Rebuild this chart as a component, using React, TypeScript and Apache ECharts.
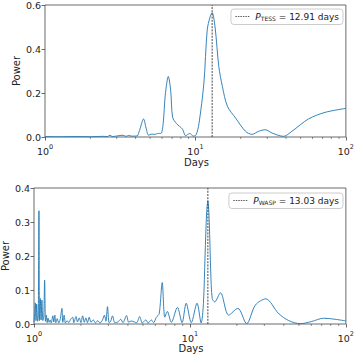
import React, { useEffect, useRef } from "react";
import * as echarts from "echarts";

const tessDays = [1.0, 1.3, 1.6, 2.0, 2.4, 2.6, 2.7, 2.8, 3.1, 3.3, 3.45, 3.6, 3.75, 3.9, 4.1, 4.25, 4.52, 4.7, 4.88, 5.1, 5.4, 5.6, 5.89, 6.1, 6.3, 6.6, 6.85, 7.05, 7.5, 8.2, 8.6, 9.16, 9.7, 10.1, 10.55, 11.38, 11.97, 12.5, 12.91, 13.5, 14.3, 15.1, 16.3, 18.5, 21.5, 23.8, 26.3, 29.2, 32.3, 38.5, 43.8, 56.4, 72.7, 100];
const tessPower = [0.002, 0.001, 0.002, 0.001, 0.003, 0.002, 0.008, 0.002, 0.006, 0.008, 0.003, 0.007, 0.004, 0.004, 0.005, 0.03, 0.082, 0.04, 0.008, 0.013, 0.012, 0.016, 0.016, 0.06, 0.19, 0.275, 0.21, 0.09, 0.06, 0.036, 0.006, 0.016, 0.004, 0.01, 0.06, 0.245, 0.486, 0.545, 0.565, 0.5, 0.32, 0.23, 0.14, 0.086, 0.026, 0.012, 0.026, 0.033, 0.018, 0.003, 0.026, 0.082, 0.112, 0.13];

const waspDays = [1.0, 1.01, 1.02, 1.03, 1.04, 1.055, 1.065, 1.076, 1.085, 1.098, 1.11, 1.124, 1.14, 1.155, 1.17, 1.185, 1.2, 1.215, 1.23, 1.25, 1.27, 1.29, 1.32, 1.34, 1.36, 1.38, 1.41, 1.44, 1.47, 1.51, 1.53, 1.56, 1.59, 1.63, 1.67, 1.72, 1.77, 1.8, 1.86, 1.9, 1.95, 2.0, 2.05, 2.1, 2.15, 2.2, 2.26, 2.32, 2.4, 2.48, 2.56, 2.65, 2.75, 2.83, 2.89, 2.96, 3.03, 3.1, 3.19, 3.3, 3.45, 3.6, 3.72, 3.92, 4.05, 4.2, 4.4, 4.55, 4.76, 4.95, 5.21, 5.4, 5.65, 5.85, 6.09, 6.35, 6.64, 6.9, 7.16, 7.6, 8.31, 8.9, 9.46, 10.2, 11.1, 11.8, 12.2, 12.5, 12.8, 13.03, 13.3, 13.6, 13.9, 14.4, 15.7, 17.7, 20.3, 23.1, 26.3, 30.6, 37.0, 43.0, 51.0, 60.0, 72.0, 85.0, 100];
const waspPower = [0.005, 0.03, 0.062, 0.01, 0.058, 0.008, 0.02, 0.333, 0.01, 0.075, 0.012, 0.07, 0.01, 0.02, 0.129, 0.008, 0.026, 0.004, 0.017, 0.005, 0.012, 0.003, 0.024, 0.006, 0.026, 0.004, 0.016, 0.003, 0.012, 0.046, 0.005, 0.026, 0.003, 0.01, 0.004, 0.014, 0.02, 0.004, 0.022, 0.006, 0.018, 0.004, 0.024, 0.005, 0.018, 0.004, 0.02, 0.005, 0.012, 0.003, 0.01, 0.003, 0.012, 0.026, 0.008, 0.051, 0.004, 0.008, 0.024, 0.004, 0.006, 0.014, 0.004, 0.025, 0.005, 0.009, 0.006, 0.004, 0.022, 0.003, 0.012, 0.003, 0.012, 0.004, 0.02, 0.03, 0.122, 0.02, 0.037, 0.005, 0.049, 0.004, 0.061, 0.004, 0.061, 0.003, 0.06, 0.2, 0.33, 0.362, 0.3, 0.15, 0.075, 0.065, 0.092, 0.026, 0.046, 0.001, 0.056, 0.074, 0.031, 0.01, 0.001, 0.007, 0.017, 0.014, 0.009];

const pTess = 12.91;
const pWasp = 13.03;
const minorTicks = [2, 3, 4, 5, 6, 7, 8, 9, 20, 30, 40, 50, 60, 70, 80, 90];
const xTitle = "Days";
const yTitle = "Power";

const FONT = "DejaVu Sans";
const AX = "#444";
const BLUE = "#1f77b4";

function zip(a: number[], b: number[]) {
  return a.map((v, i) => [v, b[i]]);
}

export default function App() {
  const ref = useRef<HTMLDivElement>(null);
  useEffect(() => {
    if (!ref.current) return;
    const chart = echarts.init(ref.current, undefined, { renderer: "svg" });
    const xAxisBase = (gridIndex: number) => ({
      type: "log",
      logBase: 10,
      gridIndex,
      min: 1,
      max: 100,
      axisLine: { show: false },
      axisTick: { show: true, length: 3.5, lineStyle: { color: AX, width: 0.8 } },
      splitLine: { show: false },
      axisLabel: {
        fontFamily: FONT,
        color: "#222",
        margin: 5,
        formatter: (v: number) => "{b|10}{s|" + Math.round(Math.log10(v)) + "}",
        rich: {
          b: { fontFamily: FONT, fontSize: 9.5, color: "#222", padding: [4, 0, 0, 0] },
          s: { fontFamily: FONT, fontSize: 6.5, color: "#222", padding: [0, 0, 4, 0] },
        },
      },
    });
    const yAxisBase = (gridIndex: number, max: number, interval: number) => ({
      type: "value",
      gridIndex,
      min: 0,
      max,
      interval,
      axisLine: { show: false },
      axisTick: { show: true, length: 3.5, lineStyle: { color: AX, width: 0.8 } },
      splitLine: { show: false },
      axisLabel: {
        fontFamily: FONT,
        fontSize: 9.5,
        color: "#222",
        margin: 4,
        formatter: (v: number) => v.toFixed(1),
      },
    });
    const minorSeries = (idx: number) => ({
      type: "custom",
      xAxisIndex: idx,
      yAxisIndex: idx,
      silent: true,
      clip: false,
      data: minorTicks.map((t) => [t, 0]),
      renderItem: (_p: any, api: any) => {
        const c = api.coord([api.value(0), api.value(1)]);
        return {
          type: "line",
          shape: { x1: c[0], y1: c[1], x2: c[0], y2: c[1] + 2 },
          style: { stroke: AX, lineWidth: 0.6 },
        };
      },
    });
    const legendRich = {
      p: { fontFamily: FONT, fontSize: 9, fontStyle: "italic", color: "#222" },
      sub: { fontFamily: FONT, fontSize: 6, color: "#222", padding: [4, 0, 0, 0] },
      n: { fontFamily: FONT, fontSize: 9, color: "#222" },
    };
    const legendBase = {
      orient: "vertical",
      right: 14,
      itemWidth: 15,
      itemHeight: 8,
      itemGap: 4,
      padding: [3, 4, 3, 4],
      borderColor: "#ccc",
      borderWidth: 1,
      borderRadius: 3,
      backgroundColor: "#fff",
      itemStyle: { color: "transparent", borderColor: "transparent", borderWidth: 0, opacity: 0 },
      lineStyle: { type: [1.5, 1], width: 0.8 },
      textStyle: { rich: legendRich },
    };
    const title = (text: string, x: number, y: number, rotate: boolean) => ({
      type: "text",
      x,
      y,
      rotation: rotate ? Math.PI / 2 : 0,
      style: {
        text,
        fontFamily: FONT,
        fontSize: 10,
        fill: "#222",
        align: "center",
        verticalAlign: "middle",
      },
    });
    chart.setOption({
      animation: false,
      backgroundColor: "#fff",
      grid: [
        { left: 45, top: 5, width: 303, height: 132, show: true, borderColor: AX, borderWidth: 0.8, backgroundColor: "transparent" },
        { left: 34, top: 188, width: 314, height: 136, show: true, borderColor: AX, borderWidth: 0.8, backgroundColor: "transparent" },
      ],
      xAxis: [xAxisBase(0), xAxisBase(1)],
      yAxis: [yAxisBase(0, 0.6, 0.2), yAxisBase(1, 0.4, 0.1)],
      graphic: [
        title(xTitle, 196.5, 162, false),
        title(xTitle, 191, 348, false),
        title(yTitle, 16, 71, true),
        title(yTitle, 5.5, 256, true),
      ],
      legend: [
        {
          ...legendBase,
          top: 9,
          data: ["tess"],
          formatter: () => "{p|P}{sub|TESS}{n| = " + pTess.toFixed(2) + " days}",
        },
        {
          ...legendBase,
          top: 193,
          data: ["wasp"],
          formatter: () => "{p|P}{sub|WASP}{n| = " + pWasp.toFixed(2) + " days}",
        },
      ],
      series: [
        {
          type: "line",
          name: "tessCurve",
          xAxisIndex: 0,
          yAxisIndex: 0,
          data: zip(tessDays, tessPower),
          smooth: 0.3,
          symbol: "none",
          lineStyle: { color: BLUE, width: 0.9 },
        },
        {
          type: "line",
          name: "tess",
          xAxisIndex: 0,
          yAxisIndex: 0,
          data: [[pTess, 0], [pTess, 0.6]],
          symbol: "none",
          lineStyle: { color: "#333", width: 0.9, type: [2, 1.2] },
          itemStyle: { color: "#333" },
        },
        {
          type: "line",
          name: "waspCurve",
          xAxisIndex: 1,
          yAxisIndex: 1,
          data: zip(waspDays, waspPower),
          smooth: 0.3,
          symbol: "none",
          lineStyle: { color: BLUE, width: 0.9 },
        },
        {
          type: "line",
          name: "wasp",
          xAxisIndex: 1,
          yAxisIndex: 1,
          data: [[pWasp, 0], [pWasp, 0.4]],
          symbol: "none",
          lineStyle: { color: "#333", width: 0.9, type: [2, 1.2] },
          itemStyle: { color: "#333" },
        },
        minorSeries(0),
        minorSeries(1),
      ],
    });
    return () => chart.dispose();
  }, []);
  return <div ref={ref} style={{ width: 357, height: 355, position: "absolute", left: 0, top: 0 }} />;
}
